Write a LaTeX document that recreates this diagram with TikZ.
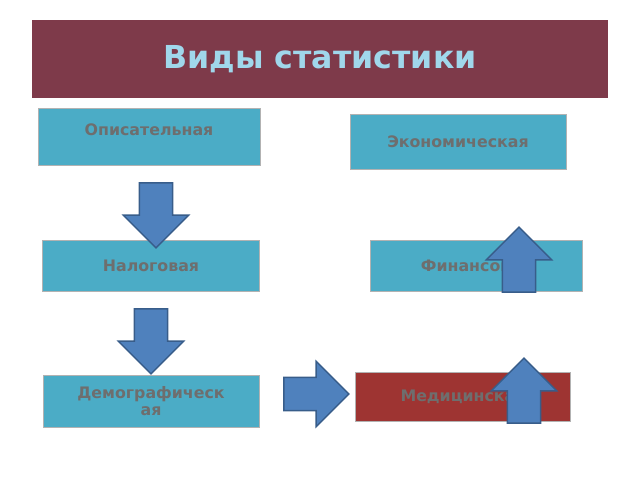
\documentclass[tikz,border=0pt]{standalone}
\usepackage{fontspec}
\setmainfont{DejaVu Sans}
\usetikzlibrary{shapes.arrows}
\definecolor{TitleBar}{RGB}{126,58,74}
\definecolor{TitleText}{RGB}{160,215,235}
\definecolor{Kind}{RGB}{75,172,198}
\definecolor{Medic}{RGB}{158,52,50}
\definecolor{KindText}{RGB}{110,110,110}
\definecolor{Arrow}{RGB}{79,129,189}
\definecolor{ArrowLine}{RGB}{56,93,138}
\begin{document}
\begin{tikzpicture}[x=0.02cm,y=-0.02cm]
	\tikzstyle{kind}=[draw=gray!60, fill=Kind, inner sep=0pt, text=KindText, font=\bfseries\fontsize{9}{10}\selectfont, align=center]
	\tikzstyle{pointer}=[draw=ArrowLine, fill=Arrow, line width=0.8pt, shape=single arrow, inner sep=0.32cm, single arrow head extend=0.32cm, minimum height=1.3cm]
	\useasboundingbox (0,0) rectangle (640,480);
	\node [fill=TitleBar, minimum width=11.52cm, minimum height=1.56cm, text=TitleText, font=\bfseries\fontsize{18}{20}\selectfont] (title) at (320, 59) {Виды статистики};
	\node [kind, minimum width=4.44cm, minimum height=1.14cm, text depth=0.3cm] (descr) at (149, 137) {Описательная};
	\node [kind, minimum width=4.32cm, minimum height=1.1cm] (econ) at (458, 142) {Экономическая};
	\node [kind, minimum width=4.34cm, minimum height=1.02cm] (tax) at (151, 266) {Налоговая};
	\node [kind, minimum width=4.24cm, minimum height=1.02cm] (fin) at (476, 266) {Финансовая};
	\node [kind, minimum width=4.32cm, minimum height=1.04cm, text width=4.2cm] (demo) at (151, 401) {Демографическ\\ая};
	\node [kind, fill=Medic, minimum width=4.3cm, minimum height=0.98cm] (med) at (463, 397) {Медицинская};
	\node [pointer, rotate=-90] (down1) at (156, 207) {};
	\node [pointer, rotate=-90] (down2) at (151, 333) {};
	\node [pointer] (right) at (308, 394) {};
	\node [pointer, rotate=90] (up1) at (519, 268) {};
	\node [pointer, rotate=90] (up2) at (524, 399) {};
\end{tikzpicture}
\end{document}
